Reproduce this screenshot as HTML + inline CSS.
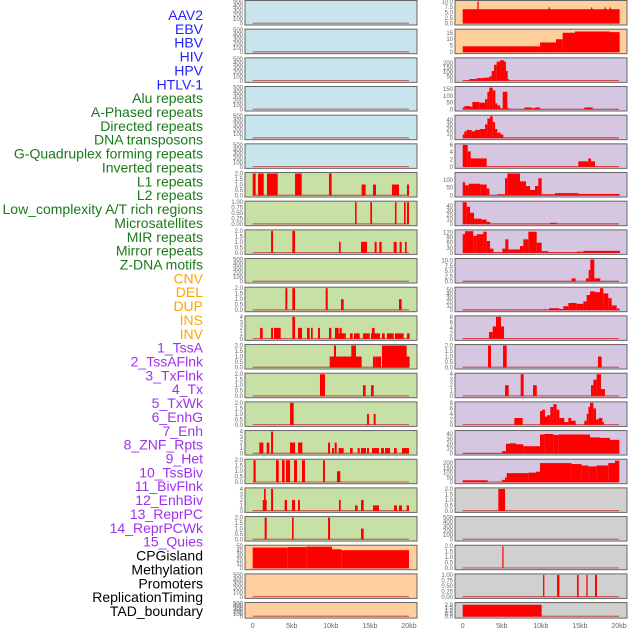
<!DOCTYPE html>
<html><head><meta charset="utf-8"><style>
body{margin:0;background:#fff;}
svg{display:block;font-family:"Liberation Sans",sans-serif;}
</style></head><body>
<svg id="chart" width="630" height="630" viewBox="0 0 630 630" xmlns="http://www.w3.org/2000/svg"></svg>
<script>
// ---- data ----
const featureLabels = ["AAV2","EBV","HBV","HIV","HPV","HTLV-1","Alu repeats","A-Phased repeats","Directed repeats","DNA transposons","G-Quadruplex forming repeats","Inverted repeats","L1 repeats","L2 repeats","Low_complexity A/T rich regions","Microsatellites","MIR repeats","Mirror repeats","Z-DNA motifs","CNV","DEL","DUP","INS","INV","1_TssA","2_TssAFlnk","3_TxFlnk","4_Tx","5_TxWk","6_EnhG","7_Enh","8_ZNF_Rpts","9_Het","10_TssBiv","11_BivFlnk","12_EnhBiv","13_ReprPC","14_ReprPCWk","15_Quies","CPGisland","Methylation","Promoters","ReplicationTiming","TAD_boundary"];
const labelGroups = [6,13,5,15,5];
const groupColors = ["#2222ff","#1a7a1a","#ffa500","#a030f0","#000000"];
const xTickValues = [0,5,10,15,20];
const xTickLabels = ["0","5kb","10kb","15kb","20kb"];

const leftBg = ["#c8e4ec","#c8e4ec","#c8e4ec","#c8e4ec","#c8e4ec","#c8e4ec","#c7e0a5","#c7e0a5","#c7e0a5","#c7e0a5","#c7e0a5","#c7e0a5","#c7e0a5","#c7e0a5","#c7e0a5","#c7e0a5","#c7e0a5","#c7e0a5","#c7e0a5","#ffcf9e","#ffcf9e","#ffcf9e"];
const rightBg = ["#ffcf9e","#ffcf9e","#d5c6e2","#d5c6e2","#d5c6e2","#d5c6e2","#d5c6e2","#d5c6e2","#d5c6e2","#d5c6e2","#d5c6e2","#d5c6e2","#d5c6e2","#d5c6e2","#d5c6e2","#d5c6e2","#d5c6e2","#d0d0d0","#d0d0d0","#d0d0d0","#d0d0d0","#d0d0d0"];

const T500=[0,100,200,300,400,500], T2=[0,0.5,1,1.5,2], T4=[0,1,2,3,4], T1=[0,0.25,0.5,0.75,1];
const leftTicks = [T500,T500,T500,T500,T500,T500,T2,T1,T2,T500,T2,T4,T2,T2,T2,T4,T2,T4,T2,[0,10,20,30,40,50],T500,T500];
const leftMax = [500,500,500,500,500,500,2,1,2,500,2,4,2,2,2,4,2,4,2,50,500,500];
const rightTicks = [[0,2.5,5,7.5,10],[0,5,10,15],[0,50,100,150,200],[0,50,100,150],[0,10,20,30,40],[0,2,4,6],[0,50,100],[0,10,20,30,40],[0,30,60,90,120],[0,2.5,5,7.5,10],[0,10,20,30,40,50],[0,2,4,6,8],T2,T4,[0,2,4,6,8],[0,10,20,30,40],[0,50,100,150,200],T2,T500,T2,T1,T2];
const rightMax = [10,17,246,161,48,6,140,48,130,10.5,55,8,2,4,8,45,230,2,500,2,1,2.2];

// segments: [startKb, endKb, value]
const leftSegs = [
 [],[],[],[],[],[],
 [[0,0.38,2],[0.68,1.41,2],[1.83,3.2,2],[5.42,6.27,2],[9.76,10.1,2],[13.94,14.45,1],[15.39,15.78,1],[17.82,18.72,1],[19.74,20,1]],
 [[13.1,13.3,1],[15.05,15.27,1],[18.2,18.4,1],[19.36,19.57,1],[19.74,20,1]],
 [[2.35,2.6,2],[5.07,5.42,2],[11.04,11.26,1],[13.86,14.63,1],[15.6,15.86,1],[16.2,16.5,1],[18.04,18.42,1],[18.8,19.06,1],[19.49,19.7,1]],
 [],
 [[4.18,4.43,2],[5.07,5.42,2],[9.34,9.6,2],[11.3,11.64,1],[18.72,19.06,1]],
 [[0.94,1.28,2],[2.35,2.6,2],[2.73,3.58,2],[5.07,5.42,4],[5.8,6.31,2],[6.95,7.29,2],[7.46,7.68,2],[8.36,8.61,2],[9.76,10.06,2],[10.53,11.0,2],[11.13,11.38,2],[11.0,11.9,1],[12.45,12.79,1],[12.96,13.69,1],[14.11,14.97,1],[15.14,16.29,1],[15.26,15.6,2],[16.54,16.89,1],[17.18,18.04,1],[18.2,19.32,1],[19.74,20.08,1]],
 [[9.85,13.94,1],[10.4,10.66,2],[12.62,13.22,2],[15.39,15.73,1],[15.73,16.42,1],[16.54,20.08,1],[16.54,19.7,2]],
 [[8.61,9.25,2],[14.11,14.45,1],[15.14,15.48,1]],
 [[4.78,5.24,2],[14.63,14.88,1],[15.48,15.73,1]],
 [[0.85,1.36,2],[1.79,2.13,2],[2.35,2.6,4],[4.78,5.42,2],[5.8,6.35,2],[9.64,9.9,2],[10.15,10.4,1],[10.49,10.75,2],[11.0,11.64,1],[12.45,12.79,1],[13.43,13.69,1],[13.86,14.5,1],[14.63,14.88,1],[15.26,16.16,1],[16.42,16.8,1],[16.93,17.57,1],[18.08,18.42,1],[19.1,20,1]],
 [[0.1,0.38,2],[2.98,3.33,2],[3.75,4.09,2],[4.26,4.78,2],[5.29,5.67,2],[6.31,6.69,2],[9.0,9.25,2],[10.79,11.21,1]],
 [[1.28,1.79,2],[1.45,1.66,4],[2.35,2.6,4],[4.09,4.39,2],[5.03,5.42,2],[5.8,6.05,2],[11.04,11.26,2],[13.09,13.43,1],[13.86,14.2,2],[15.39,16.16,1],[18.08,18.46,1],[18.72,19.1,1],[19.7,20,1]],
 [[1.53,1.79,2],[5.03,5.24,2],[9.64,9.9,2],[13.86,14.2,1]],
 [[0,4.48,47],[4.48,6.9,48],[6.9,10.15,49],[10.15,11.34,43],[11.34,20,41]],
 [],[]
];
const rightSegs = [
 [[0,20.08,6.5],[1.88,2.05,10],[11.0,11.17,7.3],[16.42,16.59,7.3],[18.16,18.33,7.3],[18.8,18.97,7.3]],
 [[0,9.9,4.5],[9.9,11.94,7.5],[11.94,12.79,10],[12.79,14.37,15],[14.37,18.85,16],[18.85,20.08,15.5]],
 [[0.09,0.85,5],[0.85,1.79,20],[1.79,2.64,30],[2.64,3.41,35],[3.41,3.71,50],[3.71,4.01,110],[4.01,4.35,180],[4.35,4.78,215],[4.78,5.29,230],[5.29,5.54,215],[5.54,5.76,110],[5.76,5.93,20],[5.93,20,3]],
 [[0,0.21,15],[0.21,0.94,25],[0.94,1.24,20],[1.24,2.13,55],[2.13,2.86,50],[2.86,3.16,75],[3.16,3.41,130],[3.41,3.84,160],[3.84,4.18,140],[4.18,4.43,45],[4.43,4.78,30],[4.78,5.12,10],[5.12,5.71,130],[5.71,5.97,10],[5.97,7.89,3],[7.89,8.83,15],[8.83,9.25,10],[9.25,9.89,15],[9.89,15.56,3],[15.56,16.63,15],[16.63,20,3]],
 [[0,0.21,8],[0.21,0.51,15],[0.51,1.15,18],[1.15,1.58,15],[1.58,2.22,18],[2.22,2.86,20],[2.86,3.16,30],[3.16,3.5,43],[3.5,3.84,48],[3.84,4.14,35],[4.14,4.43,20],[4.43,4.86,12],[4.86,5.2,8],[5.2,20,1]],
 [[0,0.64,6],[0.64,1.02,4.2],[1.02,3.07,2.3],[3.07,14.8,0.1],[14.8,16.08,1.5],[16.08,16.42,2.3],[16.42,16.93,1.5],[16.93,20,0.1]],
 [[0,0.3,85],[0.3,0.77,65],[0.77,2.26,75],[2.26,3.07,70],[3.07,3.41,45],[3.41,4.43,2],[4.43,5.42,8],[5.42,5.71,110],[5.71,7.33,140],[7.33,8.1,90],[8.1,8.61,60],[8.61,9.25,35],[9.25,9.68,60],[9.68,10.1,110],[10.1,11.81,8],[11.81,14.8,15],[14.8,20.08,10]],
 [[0,0.51,48],[0.51,0.94,38],[0.94,1.45,25],[1.45,2.43,12],[2.43,3.07,10],[3.07,3.5,5],[3.5,11.17,1],[11.17,12.02,3],[12.02,20,1]],
 [[0,0.3,110],[0.3,1.36,128],[1.36,1.79,100],[1.79,2.64,110],[2.64,3.07,125],[3.07,3.5,70],[3.5,3.92,25],[3.92,5.07,3],[5.07,5.46,25],[5.46,5.84,80],[5.84,7.33,20],[7.33,7.76,40],[7.76,8.4,80],[8.4,9.47,125],[9.47,10.1,60],[10.1,10.96,10],[10.96,14.58,3],[14.58,15.44,7],[15.44,20.13,12]],
 [[0,13.94,0.2],[13.94,14.45,1.5],[15.78,16.12,1.5],[16.12,16.33,5.5],[16.33,16.84,10.5],[16.84,17.61,1.5],[17.61,20,0.2]],
 [[0,11.04,1],[10.4,10.75,2],[11.04,12.37,5],[12.37,12.88,3],[12.88,13.52,10],[13.52,14.58,18],[14.58,15.44,16],[15.44,15.86,22],[15.86,16.29,38],[16.29,16.93,47],[16.93,17.57,45],[17.57,17.99,55],[17.99,18.63,42],[18.63,19.06,30],[19.06,19.7,12],[19.7,20.08,4]],
 [[0,3.37,0.1],[3.37,3.84,2.5],[3.84,4.26,4.5],[4.26,4.9,8],[4.9,5.29,4.5],[5.29,20,0.1]],
 [[3.24,3.62,2],[5.16,5.63,2],[17.31,17.78,1]],
 [[5.42,5.88,2],[7.42,7.8,4],[9.0,9.47,2],[16.42,16.72,2],[16.72,17.14,3],[17.14,17.7,4],[17.7,18.2,1.3]],
 [[6.61,7.68,2.5],[9.89,10.15,5],[10.15,10.53,5.5],[10.53,10.79,3],[10.79,11.21,3.5],[11.21,11.6,6.5],[11.6,12.02,7.5],[12.02,12.37,5.5],[12.37,13.0,2.5],[13.0,13.52,1],[13.52,13.86,2.5],[13.86,14.45,1.5],[15.56,15.86,1.5],[15.86,16.08,4],[16.08,16.29,6.5],[16.29,16.72,8],[16.72,17.06,6],[17.06,17.4,2],[17.4,17.87,2.5],[17.87,18.08,1]],
 [[0,5.03,1],[5.03,5.54,5],[5.54,6.05,20],[6.05,6.82,21],[6.82,7.76,19],[7.76,9.89,15],[9.89,10.45,39],[10.45,11.6,40],[11.6,12.24,38],[12.24,16.29,39],[16.29,17.57,33],[17.57,18.85,32],[18.85,20.04,28]],
 [[0,3.2,20],[3.2,4.56,1],[4.56,5.03,5],[5.03,5.42,25],[5.42,5.63,50],[5.63,8.4,95],[8.4,9.38,100],[9.38,9.89,110],[9.89,13.94,200],[13.94,15.22,190],[15.22,16.08,175],[16.08,17.14,165],[17.14,18.63,175],[18.63,19.49,200],[19.49,20.04,225]],
 [[4.56,5.42,2]],
 [],
 [[5.07,5.2,2]],
 [[10.28,10.45,1],[12.07,12.37,1],[14.63,14.84,1],[15.82,15.99,1],[16.93,17.18,1]],
 [[0,10.1,2]]
];

// ---- drawing ----
const NS="http://www.w3.org/2000/svg";
const svg=document.getElementById('chart');
function mk(tag,attrs,parent){const e=document.createElementNS(NS,tag);for(const k in attrs)e.setAttribute(k,attrs[k]);(parent||svg).appendChild(e);return e;}
const rowStep=28.67;
function xScale(col,kb){return (col===0?252.7:462.7)+kb*7.815;}

// labels
let gi=0,gc=0;
featureLabels.forEach((lab,i)=>{
  while(gc>=labelGroups[gi]){gi++;gc=0;}
  gc++;
  const t=mk('text',{x:203,y:20+i*13.86,'text-anchor':'end','font-size':'14',fill:groupColors[gi]});
  t.textContent=lab;
  
  
});

function drawPanel(col,i,bg,segs,ticks,ymax){
  const x0=col===0?245:455, w=172;
  const y0=i*rowStep+0.5, h=(i===21?15.5:24.5);
  const g=mk('g',{});
  
  
  mk('rect',{x:x0,y:y0,width:w,height:h,fill:bg},g);
  const base=y0+h-1.5, ph=h-2.5;
  const yS=v=>base-v/ymax*ph;
  mk('line',{x1:xScale(col,0),x2:xScale(col,20),y1:base-0.3,y2:base-0.3,stroke:'#c03030','stroke-width':1.2,opacity:0.7},g);
  segs.forEach(s=>{
    const r=mk('rect',{x:xScale(col,s[0]),y:yS(s[2]),width:Math.max(1.2,xScale(col,s[1])-xScale(col,s[0])),height:base-yS(s[2]),fill:'#ff0000'},g);
    
    
  });
  mk('rect',{x:x0,y:y0,width:w,height:h,fill:'none',stroke:'#666','stroke-width':1},g);
  ticks.forEach(tv=>{
    const t=mk('text',{x:x0-2,y:yS(tv)+2,'text-anchor':'end','font-size':'6',fill:'#666'},g);
    t.textContent=(ticks.some(v=>v%1!==0)?(ticks.includes(0.25)?tv.toFixed(2):tv.toFixed(1)):String(tv));
    
    
  });
}
for(let i=0;i<22;i++){drawPanel(0,i,leftBg[i],leftSegs[i],leftTicks[i],leftMax[i]);}
for(let i=0;i<22;i++){drawPanel(1,i,rightBg[i],rightSegs[i],rightTicks[i],rightMax[i]);}

[0,1].forEach(col=>{
  xTickValues.forEach((v,j)=>{
    const t=mk('text',{x:xScale(col,v),y:628,'text-anchor':'middle','font-size':'7',fill:'#666'});
    t.textContent=xTickLabels[j];
    
    
  });
});
</script>
</body></html>
